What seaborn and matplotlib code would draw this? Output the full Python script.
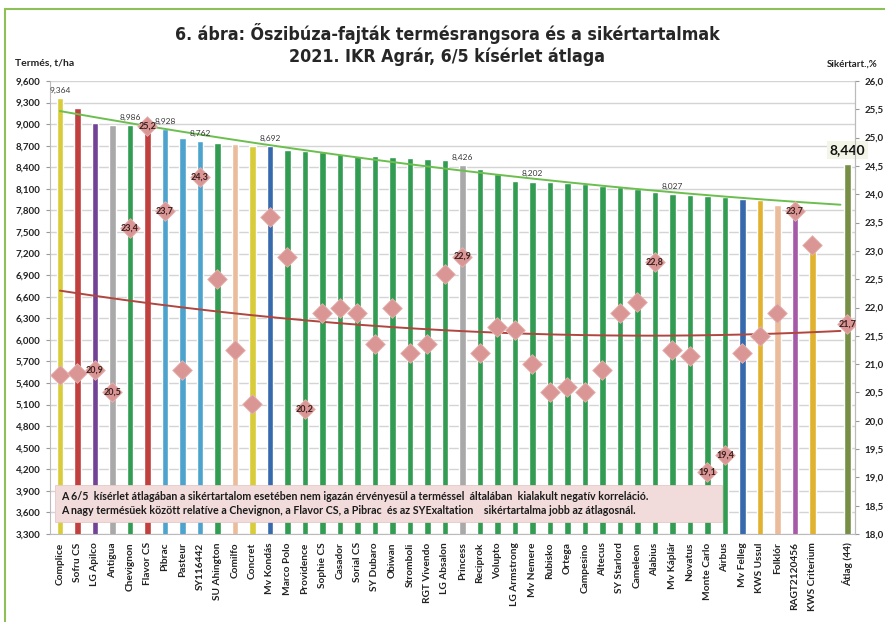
import numpy as np
import pandas as pd
import matplotlib
matplotlib.use("Agg")
import matplotlib.pyplot as plt
import seaborn as sns
from matplotlib import font_manager as fm
from matplotlib.patches import Rectangle
from matplotlib.lines import Line2D

# --- adatok ---
fajtak = ["Complice", "Sofru CS", "LG Apilco", "Antigua", "Chevignon", "Flavor CS",
          "Pibrac", "Pasteur", "SY116442", "SU Ahington", "Comilfo", "Concret",
          "Mv Kondás", "Marco Polo", "Providence", "Sophie CS", "Casador", "Sorial CS",
          "SY Dubaro", "Obiwan", "Stromboli", "RGT Vivendo", "LG Absalon", "Princess",
          "Reciprok", "Volupto", "LG Armstrong", "Mv Nemere", "Rubisko", "Ortega",
          "Campesino", "Altecus", "SY Starlord", "Cameleon", "Alabius", "Mv Káplár",
          "Novatus", "Monte Carlo", "Airbus", "Mv Felleg", "KWS Ussul", "Folklór",
          "RAGT2120456", "KWS Criterium"]
termes = [9.364, 9.23, 9.02, 8.99, 8.986, 8.96, 8.928, 8.81, 8.762, 8.74, 8.73, 8.70,
          8.692, 8.64, 8.63, 8.61, 8.58, 8.56, 8.55, 8.54, 8.53, 8.52, 8.50, 8.426,
          8.38, 8.31, 8.21, 8.202, 8.19, 8.185, 8.17, 8.14, 8.12, 8.10, 8.06, 8.027,
          8.02, 8.00, 7.99, 7.96, 7.95, 7.87, 7.85, 7.40]
siker = [20.8, 20.85, 20.9, 20.5, 23.4, 25.2, 23.7, 20.9, 24.3, 22.5, 21.25, 20.3,
         23.6, 22.9, 20.2, 21.9, 22.0, 21.9, 21.35, 22.0, 21.2, 21.35, 22.6, 22.9,
         21.2, 21.65, 21.6, 21.0, 20.5, 20.6, 20.5, 20.9, 21.9, 22.1, 22.8, 21.25,
         21.15, 19.1, 19.4, 21.2, 21.5, 21.9, 23.7, 23.1]
szinek = ["#f2e41e", "#d52a2a", "#7434a4", "#a9a9a9", "#1fae4b", "#d52a2a",
          "#38aae2", "#38aae2", "#38aae2", "#1fae4b", "#f7ba8f", "#f2e41e",
          "#2466c0"] + ["#1fae4b"] * 10 + ["#a9a9a9"] + ["#1fae4b"] * 15 + \
         ["#2466c0", "#fdc012", "#f7ba8f", "#b14db4", "#fdc012"]
atlag_nev = "Átlag (44)"
atlag_termes = 8.440
atlag_siker = 21.7
atlag_szin = "#7b9a3a"

termes_cimkek = ["Complice", "Chevignon", "Pibrac", "SY116442", "Mv Kondás",
                 "Princess", "Mv Nemere", "Mv Káplár"]
siker_cimkek = ["LG Apilco", "Antigua", "Chevignon", "Flavor CS", "Pibrac", "SY116442",
                "Providence", "Princess", "Alabius", "Monte Carlo", "Airbus", "RAGT2120456"]

megjegyzes = ["A 6/5  kísérlet átlagában a sikértartalom esetében nem igazán érvényesül a terméssel  általában  kialakult negatív korreláció.",
              "A nagy termésűek között relatíve a Chevignon, a Flavor CS, a Pibrac  és az SYExaltation    sikértartalma jobb az átlagosnál."]

# --- tábla ---
sorrend = fajtak + [" ", atlag_nev]
df = pd.DataFrame({"fajta": fajtak + [atlag_nev],
                   "termes": termes + [atlag_termes],
                   "siker": siker + [atlag_siker]})
paletta = dict(zip(fajtak, szinek))
paletta[atlag_nev] = atlag_szin
poz = {n: i for i, n in enumerate(sorrend)}
df["x"] = df["fajta"].map(poz)

def vesszo(v, d):
    return f"{v:.{d}f}".replace(".", ",")

sns.set_style("white")
plt.rcParams["font.family"] = ["Lato", "DejaVu Sans"]

# keskeny betű a címhez, ha van
fontok = fm.fontManager.ttflist
nevek = {f.name for f in fontok}
if "Liberation Sans Narrow" in nevek:
    cim_kw = dict(family=["Liberation Sans Narrow", "DejaVu Sans"], fontsize=13.8)
elif any(f.name == "DejaVu Sans" and f.stretch == "condensed" for f in fontok):
    cim_kw = dict(family=["DejaVu Sans"], fontstretch="condensed", fontsize=12.8)
else:
    cim_kw = dict(family=["Roboto", "DejaVu Sans"], fontsize=12.5)

fig = plt.figure(figsize=(8.85, 6.22), dpi=100)
ax = fig.add_axes([50 / 885, 88 / 622, 805 / 885, 453 / 622])

sns.barplot(data=df, x="fajta", y="termes", hue="fajta", order=sorrend,
            palette=paletta, legend=False, width=0.38, ax=ax, zorder=2)
ax.set_ylim(3.3, 9.6)
ax.set_yticks(np.arange(3.3, 9.61, 0.3))
ax.set_yticklabels([vesszo(v, 3) for v in np.arange(3.3, 9.61, 0.3)],
                   fontsize=7, fontweight="bold", color="#222222")
ax.set_xlim(-0.57, 45.43)
ax.set_xticks(range(len(sorrend)))
ax.set_xticklabels(sorrend, rotation=90, fontsize=7.3, fontweight="bold", color="#222222")
ax.set_xlabel("")
ax.set_ylabel("")
ax.grid(axis="y", color="#d4d4d4", lw=1, zorder=0)
ax.set_axisbelow(True)
ax.tick_params(axis="y", length=3, color="#999999", pad=4)
ax.tick_params(axis="x", length=0, pad=6)
ax.spines["top"].set_visible(False)
for s in ["left", "bottom", "right"]:
    ax.spines[s].set_color("#bbbbbb")

# trendvonalak: az Excel a teljes sorra illeszt (átlaggal együtt)
xf = df["x"].to_numpy(dtype=float)
xl = np.linspace(0, 44.6, 200)
ct = np.polyfit(xf, df["termes"], 2)
ax.plot(xl, np.polyval(ct, xl), color="#6cbf4f", lw=1.4, zorder=3)

for n in termes_cimkek:
    r = df[df["fajta"] == n].iloc[0]
    ax.text(r["x"], r["termes"] + 0.06, vesszo(r["termes"], 3), ha="center", va="bottom",
            fontsize=6, color="#3a3a3a", zorder=6)
ax.text(poz[atlag_nev], atlag_termes + 0.12, vesszo(atlag_termes, 3), ha="center",
        va="bottom", fontsize=10, fontweight="bold", color="#111111", zorder=6,
        bbox=dict(boxstyle="square,pad=0.2", fc="#f3f5e6", ec="none"))

# sikértartalom (jobb tengely)
ax2 = ax.twinx()
ax2.set_position(ax.get_position())
sns.scatterplot(data=df, x="x", y="siker", marker="D", s=100, color="#d99694",
                edgecolor="#e8b4b2", linewidth=0.6, ax=ax2, zorder=5)
cs = np.polyfit(xf, df["siker"], 2)
ax2.plot(xl, np.polyval(cs, xl), color="#b0463f", lw=1.4, zorder=4)
for n in siker_cimkek + [atlag_nev]:
    r = df[df["fajta"] == n].iloc[0]
    ax2.text(r["x"], r["siker"], vesszo(r["siker"], 1), ha="center", va="center",
             fontsize=6.5, fontweight="bold", color="#3b1f1f", zorder=7)
ax2.set_ylim(18, 26)
ax2.set_yticks(np.arange(18, 26.01, 0.5))
ax2.set_yticklabels([vesszo(v, 1) for v in np.arange(18, 26.01, 0.5)],
                    fontsize=7, fontweight="bold", color="#222222")
ax2.set_xlim(-0.57, 45.43)
ax2.set_xlabel("")
ax2.set_ylabel("")
ax2.tick_params(axis="y", length=3, color="#999999", pad=4)
for s in ["top", "left", "bottom"]:
    ax2.spines[s].set_visible(False)
ax2.spines["right"].set_color("#bbbbbb")
ax2.grid(False)

# megjegyzés doboz
ax2.add_patch(Rectangle((55 / 885, 1 - 522 / 622), 667 / 885, 37 / 622,
                        transform=fig.transFigure, fc="#f2dcdb", ec="#e6c8c6",
                        lw=0.6, zorder=10, clip_on=False))
for k, sor in enumerate(megjegyzes):
    fig.text(61 / 885, 1 - (496 + 15 * k) / 622, sor, fontsize=7.7, fontweight="bold",
             color="#1a1a1a", va="center", ha="left", zorder=11)

# címek
fig.text(447 / 885, 1 - 33 / 622, "6. ábra: Őszibúza-fajták termésrangsora és a sikértartalmak",
         ha="center", va="center", fontweight="bold", **cim_kw)
fig.text(447 / 885, 1 - 57 / 622, "2021. IKR Agrár, 6/5 kísérlet átlaga",
         ha="center", va="center", fontweight="bold", **cim_kw)
fig.text(15 / 885, 1 - 63 / 622, "Termés, t/ha", ha="left", va="center",
         fontsize=7.5, fontweight="bold", color="#222222")
fig.text(878 / 885, 1 - 64 / 622, "Sikértart.,%", ha="right", va="center",
         fontsize=7, fontweight="bold", color="#222222")

# zöld keret
fig.add_artist(Line2D([5 / 885, 1], [1 - 9 / 622, 1 - 9 / 622], color="#8dc057", lw=1.5))
fig.add_artist(Line2D([5 / 885, 5 / 885], [0, 1 - 9 / 622], color="#8dc057", lw=1.5))

fig.savefig("out.png", dpi=100)
